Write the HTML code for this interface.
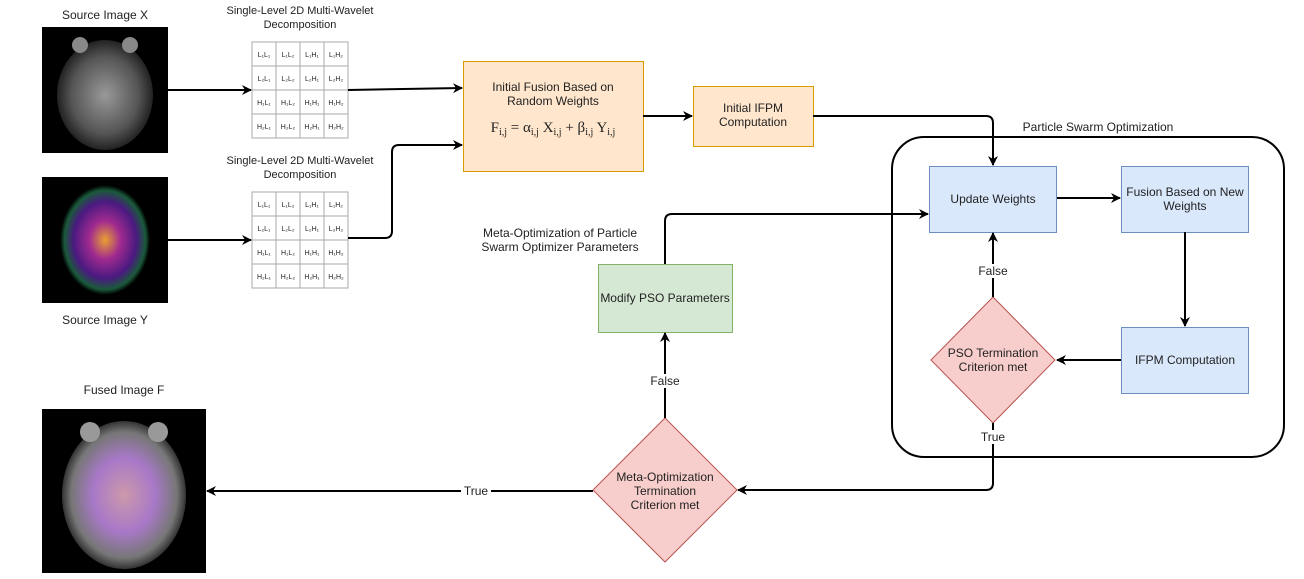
<!DOCTYPE html>
<html><head><meta charset="utf-8"><style>
body{margin:0;width:1304px;height:574px;background:#fff;overflow:hidden;font-family:"Liberation Sans",sans-serif}
svg{font-family:"Liberation Sans",sans-serif;font-size:12px}
svg text{fill:#222}
</style></head><body>
<svg width="1304" height="574" xmlns="http://www.w3.org/2000/svg">
<defs>
<marker id="a" markerWidth="10" markerHeight="10" refX="9" refY="5" orient="auto" markerUnits="userSpaceOnUse"><path d="M0,0 L10,5 L0,10 L3,5 z" fill="#000"/></marker>
<radialGradient id="bx"><stop offset="0" stop-color="#999"/><stop offset="0.7" stop-color="#555"/><stop offset="1" stop-color="#222"/></radialGradient>
<radialGradient id="by"><stop offset="0" stop-color="#e9a030"/><stop offset="0.35" stop-color="#a02a90"/><stop offset="0.7" stop-color="#4a1a80"/><stop offset="0.9" stop-color="#1a5a3a"/><stop offset="1" stop-color="#000"/></radialGradient>
<radialGradient id="bf"><stop offset="0" stop-color="#c9a"/><stop offset="0.5" stop-color="#a878c8"/><stop offset="0.85" stop-color="#777"/><stop offset="1" stop-color="#333"/></radialGradient>
</defs>
<text x="105" y="19" text-anchor="middle">Source Image X</text>
<rect x="42" y="27" width="126" height="126" fill="#000"/>
<ellipse cx="105" cy="95" rx="48" ry="55" fill="url(#bx)"/>
<circle cx="80" cy="45" r="8" fill="#888"/><circle cx="130" cy="45" r="8" fill="#888"/>
<rect x="42" y="177" width="126" height="126" fill="#000"/>
<ellipse cx="105" cy="240" rx="45" ry="55" fill="url(#by)"/>
<text x="105" y="324" text-anchor="middle">Source Image Y</text>
<text x="124" y="394" text-anchor="middle">Fused Image F</text>
<rect x="42" y="409" width="164" height="164" fill="#000"/>
<ellipse cx="124" cy="495" rx="62" ry="74" fill="url(#bf)"/>
<circle cx="90" cy="432" r="10" fill="#999"/><circle cx="158" cy="432" r="10" fill="#999"/>
<text x="300" y="14" text-anchor="middle" font-size="11">Single-Level 2D Multi-Wavelet</text>
<text x="300" y="28" text-anchor="middle" font-size="11">Decomposition</text>
<text x="300" y="164" text-anchor="middle" font-size="11">Single-Level 2D Multi-Wavelet</text>
<text x="300" y="178" text-anchor="middle" font-size="11">Decomposition</text>
<g stroke="#aaa" fill="none">
<rect x="252" y="42" width="96" height="96"/><path d="M276,42V138M300,42V138M324,42V138M252,66H348M252,90H348M252,114H348"/>
<rect x="252" y="192" width="96" height="96"/><path d="M276,192V288M300,192V288M324,192V288M252,216H348M252,240H348M252,264H348"/>
</g>
<g font-size="7" text-anchor="middle">
<text x="264" y="57">L₁L₁</text><text x="288" y="57">L₁L₂</text><text x="312" y="57">L₁H₁</text><text x="336" y="57">L₁H₂</text>
<text x="264" y="81">L₂L₁</text><text x="288" y="81">L₂L₂</text><text x="312" y="81">L₂H₁</text><text x="336" y="81">L₂H₂</text>
<text x="264" y="105">H₁L₁</text><text x="288" y="105">H₁L₂</text><text x="312" y="105">H₁H₁</text><text x="336" y="105">H₁H₂</text>
<text x="264" y="129">H₂L₁</text><text x="288" y="129">H₂L₂</text><text x="312" y="129">H₂H₁</text><text x="336" y="129">H₂H₂</text>
<text x="264" y="207">L₁L₁</text><text x="288" y="207">L₁L₂</text><text x="312" y="207">L₁H₁</text><text x="336" y="207">L₁H₂</text>
<text x="264" y="231">L₂L₁</text><text x="288" y="231">L₂L₂</text><text x="312" y="231">L₂H₁</text><text x="336" y="231">L₂H₂</text>
<text x="264" y="255">H₁L₁</text><text x="288" y="255">H₁L₂</text><text x="312" y="255">H₁H₁</text><text x="336" y="255">H₁H₂</text>
<text x="264" y="279">H₂L₁</text><text x="288" y="279">H₂L₂</text><text x="312" y="279">H₂H₁</text><text x="336" y="279">H₂H₂</text>
</g>
<rect x="463.5" y="61.5" width="180" height="110" fill="#ffe6cc" stroke="#d79b00"/>
<text x="553" y="91" text-anchor="middle">Initial Fusion Based on</text>
<text x="553" y="105" text-anchor="middle">Random Weights</text>
<text x="553" y="132" text-anchor="middle" style="font-family:'Liberation Serif',serif;font-size:15px">F<tspan font-size="10" dy="3">i,j</tspan><tspan dy="-3"> = α</tspan><tspan font-size="10" dy="3">i,j</tspan><tspan dy="-3"> X</tspan><tspan font-size="10" dy="3">i,j</tspan><tspan dy="-3"> + β</tspan><tspan font-size="10" dy="3">i,j</tspan><tspan dy="-3"> Y</tspan><tspan font-size="10" dy="3">i,j</tspan></text>
<rect x="693.5" y="86.5" width="120" height="60" fill="#ffe6cc" stroke="#d79b00"/>
<text x="753" y="112" text-anchor="middle">Initial IFPM</text>
<text x="753" y="126" text-anchor="middle">Computation</text>
<rect x="892" y="137" width="392" height="320" rx="32" fill="none" stroke="#000" stroke-width="2"/>
<text x="1098" y="131" text-anchor="middle">Particle Swarm Optimization</text>
<rect x="929.5" y="166.5" width="127" height="66" fill="#dae8fc" stroke="#6c8ebf"/>
<text x="993" y="203" text-anchor="middle">Update Weights</text>
<rect x="1121.5" y="166.5" width="127" height="66" fill="#dae8fc" stroke="#6c8ebf"/>
<text x="1185" y="196" text-anchor="middle">Fusion Based on New</text>
<text x="1185" y="210" text-anchor="middle">Weights</text>
<rect x="1121.5" y="327.5" width="127" height="66" fill="#dae8fc" stroke="#6c8ebf"/>
<text x="1185" y="364" text-anchor="middle">IFPM Computation</text>
<path d="M993,297 L1055,360 L993,423 L931,360 Z" fill="#f8cecc" stroke="#b85450"/>
<text x="993" y="357" text-anchor="middle">PSO Termination</text>
<text x="993" y="371" text-anchor="middle">Criterion met</text>
<rect x="598.5" y="264.5" width="134" height="68" fill="#d5e8d4" stroke="#82b366"/>
<text x="665" y="302" text-anchor="middle">Modify PSO Parameters</text>
<path d="M665,418 L737,490 L665,562 L593,490 Z" fill="#f8cecc" stroke="#b85450"/>
<text x="665" y="481" text-anchor="middle">Meta-Optimization</text>
<text x="665" y="495" text-anchor="middle">Termination</text>
<text x="665" y="509" text-anchor="middle">Criterion met</text>
<text x="560" y="237" text-anchor="middle">Meta-Optimization of Particle</text>
<text x="560" y="251" text-anchor="middle">Swarm  Optimizer Parameters</text>
<g stroke="#000" stroke-width="2" fill="none" marker-end="url(#a)">
<path d="M168,90 H251"/>
<path d="M168,240 H251"/>
<path d="M348,90 L462,88"/>
<path d="M348,238 H385 Q392,238 392,231 V152 Q392,145 399,145 H462"/>
<path d="M643,116 H692"/>
<path d="M813,116 H986 Q993,116 993,123 V165"/>
<path d="M1057,198 H1120"/>
<path d="M1185,232 V326"/>
<path d="M1121,360 H1057"/>
<path d="M993,297 V233"/>
<path d="M993,423 V483 Q993,490 986,490 H738"/>
<path d="M593,491 H207"/>
<path d="M665,418 V333"/>
<path d="M665,264 V221 Q665,214 672,214 H928"/>
</g>
<g text-anchor="middle">
<rect x="976" y="264" width="34" height="14" fill="#fff"/><text x="993" y="275">False</text>
<rect x="978" y="430" width="30" height="14" fill="#fff"/><text x="993" y="441">True</text>
<rect x="648" y="374" width="34" height="14" fill="#fff"/><text x="665" y="385">False</text>
<rect x="461" y="484" width="30" height="14" fill="#fff"/><text x="476" y="495">True</text>
</g>
</svg>
</body></html>
